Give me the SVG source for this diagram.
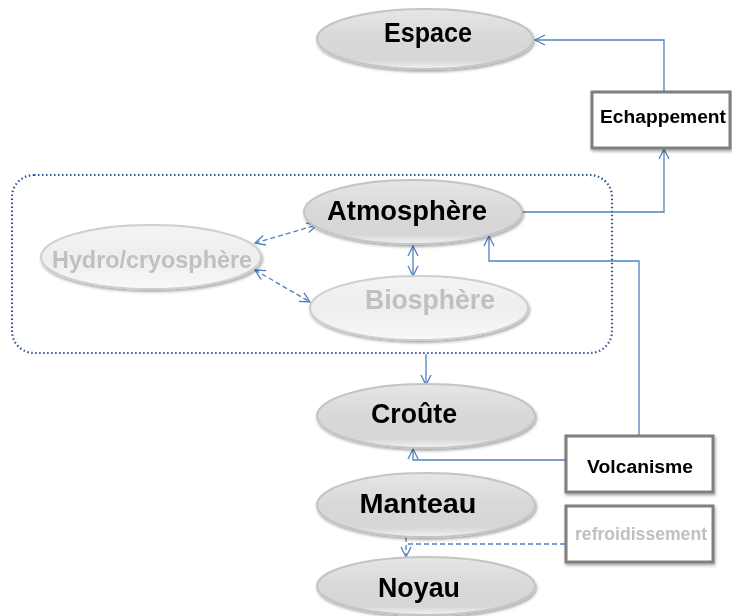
<svg xmlns="http://www.w3.org/2000/svg" width="732" height="616" viewBox="0 0 732 616">
<style>
.t{font-family:"Liberation Sans",Arial,sans-serif;font-weight:bold;text-anchor:middle}
.big{font-size:27px;fill:#000}
.fade{font-size:24px;fill:#c0c0c0}
.sm{font-size:18px;fill:#000}
.smf{font-size:18px;fill:#c0c0c0}
.ell{fill:url(#g1);stroke:#c4c4c4;stroke-width:2}
.ellf{fill:url(#g2);stroke:#cfcfcf;stroke-width:2}
.box{fill:#fff;stroke:#7f7f7f;stroke-width:3}
.c{fill:none;stroke:#4f81bd;stroke-width:1.3}
.d{stroke-dasharray:5 3}
</style>
<defs>
<linearGradient id="g1" x1="0" y1="0" x2="0" y2="1">
<stop offset="0" stop-color="#e6e6e6"/><stop offset="0.45" stop-color="#d9d9d9"/><stop offset="0.85" stop-color="#d6d6d6"/><stop offset="1" stop-color="#f2f2f2"/>
</linearGradient>
<linearGradient id="g2" x1="0" y1="0" x2="0" y2="1">
<stop offset="0" stop-color="#f4f4f4"/><stop offset="0.5" stop-color="#eeeeee"/><stop offset="1" stop-color="#f8f8f8"/>
</linearGradient>
<filter id="sh" x="-10%" y="-10%" width="130%" height="140%">
<feGaussianBlur in="SourceAlpha" stdDeviation="1.5"/><feOffset dx="1" dy="2"/><feComponentTransfer><feFuncA type="linear" slope="0.35"/></feComponentTransfer>
<feMerge><feMergeNode/><feMergeNode in="SourceGraphic"/></feMerge>
</filter>
<marker id="a" viewBox="0 0 12 12" refX="11" refY="6" markerWidth="12" markerHeight="12" markerUnits="userSpaceOnUse" orient="auto-start-reverse">
<path d="M1,1 L11,6 L1,11" fill="none" stroke="#4f81bd" stroke-width="1.3"/>
</marker>
</defs>
<g id="container">
<rect x="12" y="175" width="600" height="178" rx="22" fill="none" stroke="#2f5597" stroke-width="2.2" stroke-dasharray="1.5 2.5"/>
</g>
<g id="connectors">
<polyline class="c" points="664,91 664,40 535,40" marker-end="url(#a)"/>
<polyline class="c" points="523,212 664,212 664,149" marker-end="url(#a)"/>
<polyline class="c" points="639,435 639,261 489,261 489,236" marker-end="url(#a)"/>
<line class="c" x1="413" y1="246" x2="413" y2="276" marker-start="url(#a)" marker-end="url(#a)"/>
<line class="c d" x1="255" y1="243" x2="317" y2="225" marker-start="url(#a)" marker-end="url(#a)"/>
<line class="c d" x1="255" y1="270" x2="310" y2="302" marker-start="url(#a)" marker-end="url(#a)"/>
<line class="c" x1="426" y1="354" x2="426" y2="385" marker-end="url(#a)"/>
<polyline class="c" points="565,460 413,460 413,449" marker-end="url(#a)"/>
<polyline class="c d" points="565,544 406,544"/>
<line class="c d" x1="406" y1="537" x2="406" y2="557" marker-end="url(#a)"/>
</g>
<g id="espace" filter="url(#sh)">
<ellipse class="ell" cx="425" cy="39" rx="108" ry="30"/>
<text class="t big" x="428" y="42" textLength="88" lengthAdjust="spacingAndGlyphs">Espace</text>
</g>
<g id="echappement" filter="url(#sh)">
<rect class="box" x="592" y="92" width="138" height="56"/>
<text class="t sm" x="663" y="123" textLength="126" lengthAdjust="spacingAndGlyphs">Echappement</text>
</g>
<g id="atmosphere" filter="url(#sh)">
<ellipse class="ell" cx="413" cy="212" rx="109" ry="32"/>
<text class="t big" x="407" y="220" textLength="160" lengthAdjust="spacingAndGlyphs">Atmosphère</text>
</g>
<g id="hydro" filter="url(#sh)">
<ellipse class="ellf" cx="151" cy="257" rx="110" ry="32"/>
<text class="t fade" x="152" y="268" textLength="200" lengthAdjust="spacingAndGlyphs">Hydro/cryosphère</text>
</g>
<g id="biosphere" filter="url(#sh)">
<ellipse class="ellf" cx="419" cy="308" rx="109" ry="32"/>
<text class="t fade" x="430" y="309" textLength="130" lengthAdjust="spacingAndGlyphs" style="font-size:27px">Biosphère</text>
</g>
<g id="croute" filter="url(#sh)">
<ellipse class="ell" cx="426" cy="416" rx="109" ry="32"/>
<text class="t big" x="414" y="423" textLength="86" lengthAdjust="spacingAndGlyphs">Croûte</text>
</g>
<g id="volcanisme" filter="url(#sh)">
<rect class="box" x="566" y="436" width="147" height="56"/>
<text class="t sm" x="640" y="473" textLength="106" lengthAdjust="spacingAndGlyphs">Volcanisme</text>
</g>
<g id="manteau" filter="url(#sh)">
<ellipse class="ell" cx="426" cy="505" rx="109" ry="32"/>
<text class="t big" x="418" y="513" textLength="117" lengthAdjust="spacingAndGlyphs">Manteau</text>
</g>
<g id="refroidissement" filter="url(#sh)">
<rect class="box" x="566" y="506" width="147" height="56"/>
<text class="t smf" x="641" y="540" textLength="132" lengthAdjust="spacingAndGlyphs">refroidissement</text>
</g>
<g id="noyau" filter="url(#sh)">
<ellipse class="ell" cx="426" cy="586" rx="109" ry="29"/>
<text class="t big" x="419" y="597" textLength="82" lengthAdjust="spacingAndGlyphs">Noyau</text>
</g>
</svg>
